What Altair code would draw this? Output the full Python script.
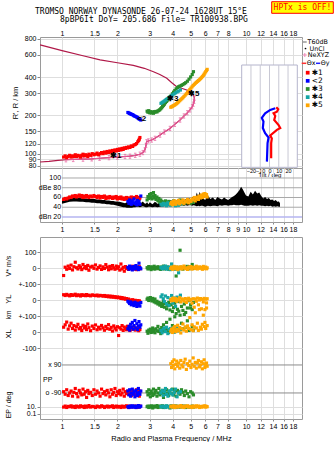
import math
import altair as alt
import pandas as pd

SANS = "Liberation Sans"
SANS_WIDE = "DejaVu Sans"
MONO = "DejaVu Sans Mono"

# ---------------- layout (pixels) ----------------
W = 262
H_TOP, H_DB, H_GAP, H_LOW = 131, 54, 15, 182

# ---------------- axes ----------------
F_MIN, F_MAX = 0.759, 20.15
F_TICKS = [1, 1.5, 2, 3, 4, 5, 6, 7, 8, 10, 12, 14, 16, 18]
F_TICKS_DB = [1, 1.5, 2, 3, 4, 5, 6, 7, 8, 9, 10, 12, 14, 16, 18]
H_MIN, H_MAX = 77.1, 829
H_TICKS = [80, 90, 100, 120, 150, 200, 300, 400, 600, 800]
DB_MIN, DB_MAX = 9.7, 120.5
DB_TICKS = [20, 40, 60, 80, 100]
DB_LABELS = ["dBn 20", "40", "60", "dBe 80", "100"]
TILT_MIN, TILT_MAX = -30, 30
TILT_TICKS = [-20, -10, 0, 10, 20]

# lower panel: stacked rows on one composite scale
V_ROW, YL_ROW, XL_ROW = 400, 200, 0
PPX_ROW, PPO_ROW, EP_ROW = -206, -381, -467
U_MIN, U_MAX = -543.75, 593.75
ROW_TICKS = [500, 400, 300, 200, 100, 0, -100, -467, -512]
ROW_LABELS = ["100", "0", "+-100", "0", "+-100", "0", "-100", "10.", "0.1"]

TRACES = ["✱1", "<2", "✱3", "✱4", "✱5"]
TRACE_COLORS = ["#ff0000", "#0000ff", "#2a8c2a", "#14a5a5", "#ffa500"]
CRIMSON = "#b01848"
PINK = "#e8589a"

# ---------------- electron density profile ----------------
LOW_F = [0.76, 0.85, 0.95]
LOW_H = [86, 87, 88.5]
BOT_F = [1.05, 1.15, 1.30, 1.45, 1.60, 1.80, 2.00, 2.20, 2.34, 2.50, 2.65, 2.75, 2.82, 2.86, 2.88,
         2.95, 3.07, 3.20, 3.41, 3.60, 3.86, 4.10, 4.38, 4.60, 4.80, 4.96, 5.10, 5.17, 5.22, 5.24]
BOT_H = [89.5, 90, 90.5, 91, 92, 93, 94, 95, 95.5, 97, 99, 102, 107, 116, 124,
         126, 128, 132, 140, 148, 158, 170, 184, 198, 210, 221, 234, 245, 258, 273]
TOP_F = [5.20, 5.06, 4.90, 4.76, 4.50, 4.20, 3.95, 3.71, 3.40, 3.14, 2.80, 2.44, 2.00, 1.61, 1.30, 1.00, 0.76]
TOP_H = [285, 299, 308, 317, 326, 337, 362, 392, 420, 442, 470, 495, 520, 547, 590, 647, 718]

# ---------------- tilt profile ----------------
TILT_X_H = [92, 121, 132, 139, 154, 159, 168, 184, 198, 208, 214, 224, 232]
TILT_X = [1.8, 1.8, 2.5, 0.8, 8.0, 11.6, 9.8, 5.1, 6.2, 4.4, 8.0, 9.4, 7.3]
TILT_Y_H = [86.5, 121, 134, 145, 159, 179, 191, 208, 221, 228]
TILT_Y = [-2.8, -2.1, -1.0, -4.7, -7.2, -6.5, -8.3, -4.7, 0.8, 6.2]

# ---------------- echo traces ----------------
F_RED = [1.02, 1.04, 1.06, 1.08, 1.10, 1.12, 1.14, 1.16, 1.18, 1.20, 1.22, 1.24, 1.26, 1.28, 1.30, 1.32, 1.34, 1.36, 1.38, 1.40,
         1.43, 1.46, 1.49, 1.52, 1.55, 1.58, 1.61, 1.64, 1.67, 1.70, 1.73, 1.76, 1.79, 1.82, 1.85, 1.88, 1.91, 1.94, 1.97, 2.00,
         2.03, 2.06, 2.09, 2.12, 2.15, 2.18, 2.21, 2.24, 2.27, 2.30, 2.34, 2.38, 2.42, 2.46, 2.50, 2.54, 2.58, 2.61, 2.63, 2.65]
H_RED = [94, 96, 93, 95, 97, 94, 96, 95, 98, 95, 97, 96, 94, 97, 99, 96, 98, 97, 95, 99,
         97, 100, 98, 99, 101, 98, 100, 102, 100, 103, 101, 104, 102, 105, 103, 106, 104, 107, 105, 108,
         106, 109, 107, 110, 108, 111, 110, 112, 111, 113, 112, 115, 114, 117, 118, 120, 124, 127, 130, 134]
AMP_RED = [56, 58, 57, 59, 61, 60, 63, 62, 64, 61, 63, 65, 62, 64, 60, 63, 61, 64, 62, 60,
           63, 61, 64, 62, 60, 63, 59, 62, 60, 63, 58, 61, 59, 62, 60, 58, 61, 59, 62, 57,
           60, 58, 61, 57, 59, 56, 58, 60, 57, 59, 58, 61, 57, 60, 59, 62, 58, 60, 57, 59]
VS_RED = [-47, 5, -8, 12, -3, 18, -12, 8, 36, 2, -6, 14, 4, -10, 22, 0, 9, -4, 16, -14,
          6, 11, -2, 19, -7, 3, 13, -9, 7, -3, 21, 5, -11, 10, -5, 15, 1, -8, 12, -2,
          8, -13, 25, -6, 4, -20, 9, -4, 2, -9, 6, -3, 11, -7, 3, -10, 5, -2, 8, -5]
YL_RED = [33, 28, 35, 30, 26, 34, 29, 31, 36, 27, 32, 30, 25, 33, 29, 31, 27, 34, 28, 30,
          26, 32, 29, 27, 31, 25, 29, 27, 24, 28, 22, 26, 20, 25, 18, 23, 17, 21, 15, 19,
          14, 17, 10, 15, 8, 12, 5, 9, 3, 6, 0, -3, 2, -6, -2, -8, -4, -10, -5, -12]
XL_RED = [30, 45, 62, 18, 38, 55, 22, 40, 12, 33, 48, 20, 28, 9, 42, 25, 35, 15, 50, 27,
          8, 37, 22, 44, 14, 30, 19, 41, 26, 11, 35, 21, 46, 17, 29, 6, 38, 24, 13, 33,
          -22, 27, 18, 40, 10, 31, 22, 14, 36, 20, 9, 28, 17, 32, 12, 25, 19, 8, 30, 15]
PP_RED = [-88, -92, -85, -94, -90, -87, -95, -89, -83, -91, -96, -86, -90, -93, -84, -92, -88, -97, -86, -91,
          -89, -94, -85, -92, -87, -90, -95, -84, -91, -88, -93, -86, -90, -96, -85, -92, -89, -83, -94, -88,
          -91, -86, -93, -90, -84, -95, -88, -91, -87, -92, -89, -94, -86, -90, -93, -85, -91, -88, -95, -87]
EP_RED = [9, 12, 8, 11, 10, 13, 9, 11, 8, 12, 10, 9, 13, 10, 11, 8, 12, 9, 10, 14,
          9, 11, 10, 8, 12, 10, 9, 13, 11, 8, 10, 12, 9, 11, 10, 13, 8, 10, 12, 9,
          11, 10, 8, 12, 10, 9, 11, 13, 10, 8, 12, 9, 11, 10, 12, 8, 10, 11, 9, 12]

F_BLUE = [2.28, 2.31, 2.33, 2.36, 2.38, 2.41, 2.44, 2.46, 2.49, 2.52, 2.55, 2.57, 2.60, 2.62, 2.65, 2.68]
H_BLUE = [211, 209, 207, 206, 204, 203, 201, 199, 197, 196, 194, 192, 190, 188, 186, 184]
AMP_BLUE = [52, 48, 55, 50, 46, 53, 49, 57, 47, 51, 45, 54, 48, 52, 46, 63]
VS_BLUE = [4, -8, 12, -3, 7, -12, 2, 9, -6, 15, -2, 6, -10, 30, 3, -5]
YL_BLUE = [-8, -15, -22, -12, -30, -18, -25, -35, -14, -28, -40, -20, -33, -24, -38, -16]
XL_BLUE = [20, 35, 12, 48, 28, 60, 18, 40, 72, 25, 52, 15, 38, 65, 30, 45]
PP_BLUE = [-87, -93, -85, -95, -90, -84, -92, -88, -96, -86, -91, -94, -83, -89, -92, -87]
EP_BLUE = [10, 8, 12, 9, 11, 13, 9, 10, 12, 8, 11, 10, 14, 9, 10, 12]

F_GREEN = [2.90, 2.93, 2.96, 2.99, 3.02, 3.05, 3.08, 3.11, 3.14, 3.17, 3.20, 3.24, 3.28, 3.32, 3.36, 3.40, 3.44, 3.48, 3.52, 3.56,
           3.60, 3.65, 3.70, 3.75, 3.80, 3.86, 3.92, 3.98, 4.04, 4.10, 4.17, 4.24, 4.31, 4.38, 4.46, 4.54, 4.62, 4.70, 4.80, 4.90,
           5.00, 5.10, 5.18]
H_GREEN = [216, 212, 218, 210, 214, 209, 213, 211, 208, 214, 212, 215, 213, 217, 219, 222, 226, 230, 235, 240,
           245, 252, 258, 264, 270, 279, 287, 296, 305, 314, 324, 332, 337, 341, 345, 350, 356, 362, 372, 386,
           402, 420, 442]
AMP_GREEN = [55, 62, 58, 66, 60, 68, 57, 63, 70, 59, 64, 56, 61, 53, 58, 50, 55, 52, 48, 51,
             47, 53, 49, 46, 52, 48, 50, 47, 53, 49, 46, 51, 48, 55, 50, 47, 52, 49, 54, 51,
             48, 53, 50]
VS_GREEN = [2, -6, 9, -3, 5, -10, 7, 0, -4, 11, -7, 3, -2, 8, -5, 4, -9, 6, -1, 12,
            -6, 3, -3, 7, -8, 2, 5, -4, 9, -2, -50, 4, -6, 111, 3, -7, 6, -2, 10, -5,
            8, 22, -3]
YL_GREEN = [5, 12, -3, 8, 15, 2, -6, 10, 0, -12, 6, -18, -8, -25, -15, -32, -20, -40, -28, -10,
            -45, -22, -55, -35, -15, -62, -30, -72, -48, -20, -85, -58, -10, -95, -40, -65, -25, -78, -50, -5,
            -30, -60, -15]
XL_GREEN = [5, -8, 12, 2, 18, -3, 9, 25, 0, 14, -5, 20, 7, 35, 3, 15, -10, 28, 10, 45,
            6, 22, 60, 12, -2, 80, 18, 40, 5, 95, 25, 8, 130, 15, 55, 20, 110, 30, 70, 10,
            150, 35, 12]
PP_GREEN = [-88, -93, -85, -91, -96, -87, -90, -94, -84, -92, -89, -86, -95, -90, -83, -93, -88, -91, -86, -97,
            -89, -92, -85, -90, -94, -87, -91, -84, -93, -88, -95, -86, -90, -92, -85, -89, -94, -87, -91, -96,
            -88, -90, -93]
EP_GREEN = [10, 12, 8, 11, 9, 13, 10, 7, 12, 9, 11, 10, 14, 8, 10, 12, 9, 11, 13, 8,
            10, 9, 12, 10, 11, 7, 13, 9, 10, 12, 8, 11, 10, 9, 13, 10, 12, 8, 11, 9,
            10, 12, 9]

F_TEAL = [3.45, 3.50, 3.55, 3.60, 3.65, 3.70, 3.76, 3.82, 3.88, 3.94, 4.00, 4.07, 4.14, 4.22, 4.30, 4.40]
H_TEAL = [249, 253, 256, 260, 264, 268, 272, 277, 281, 286, 291, 296, 301, 306, 311, 317]
AMP_TEAL = [46, 44, 48, 45, 47, 43, 49, 46, 44, 48, 45, 47, 43, 46, 44, 47]
VS_TEAL = [3, -5, 8, -2, 12, -7, 0, 5, -10, 25, -3, 6, -8, 2, -30, 4]
YL_TEAL = [20, 32, 8, -10, 25, -25, 15, -35, 5, 28, -18, 12, -40, 18, -5, 30]
XL_TEAL = [10, -5, 18, 25, 2, 30, -10, 15, 22, 5, 28, -2, 12, 20, 8, 16]
PP_TEAL = [-90, -86, -94, -88, -83, -92, -95, -87, -91, -85, -93, -89, -84, -96, -90, -88]
EP_TEAL = [11, 9, 12, 10, 8, 13, 10, 9, 11, 12, 8, 10, 13, 9, 11, 10]

F_ORANGE = [3.90, 3.94, 3.98, 4.02, 4.06, 4.10, 4.15, 4.20, 4.25, 4.30, 4.36, 4.42, 4.48, 4.54, 4.60, 4.67, 4.74, 4.81, 4.88, 4.95,
            5.02, 5.09, 5.16, 5.23, 5.30, 5.37, 5.44, 5.51, 5.58, 5.65, 5.72, 5.79, 5.86, 5.92, 5.98, 6.04, 6.10, 6.15]
H_ORANGE = [232, 234, 236, 238, 240, 242, 245, 248, 252, 256, 261, 266, 271, 276, 282, 289, 296, 304, 312, 320,
            328, 336, 344, 351, 358, 364, 370, 376, 382, 389, 396, 404, 413, 422, 432, 442, 452, 461]
AMP_ORANGE = [47, 50, 45, 52, 48, 53, 46, 51, 49, 54, 47, 52, 50, 55, 48, 53, 51, 56, 49, 54,
              52, 57, 55, 60, 53, 58, 61, 56, 63, 59, 65, 60, 67, 62, 68, 64, 66, 61]
VS_ORANGE = [-3, 5, -8, 2, 10, -5, 0, 7, -10, 4, -2, 8, -6, 3, 12, -4, 1, -9, 6, -1,
             9, -7, 2, 5, -3, 11, -6, 0, 7, -2, 4, -8, 10, -4, 2, 6, -5, 1]
YL_ORANGE = [2, -5, 8, 12, -3, 6, 10, -8, 4, 0, 14, -12, 7, 2, -6, 9, -15, 5, 11, -2,
             3, -20, 8, -45, 6, -8, 12, -30, 0, 9, -55, 4, -12, 10, -60, 5, -18, 8]
XL_ORANGE = [5, 18, -3, 25, 10, 35, 2, 15, 42, 8, 28, -6, 20, 50, 12, 30, 5, 38, 22, 90,
             15, 45, 8, 32, 120, 25, 55, 10, 140, 30, 18, 48, 105, 35, 60, 22, 150, 40]
PP_ORANGE = [92, 86, 95, 89, 98, 84, 91, 96, 88, 93, 85, 97, 90, 87, 94, 99, 83, 92, 89, 96,
             86, 91, 101, 88, 94, 85, 93, 97, 87, 90, 95, 84, 92, 98, 86, 90, 93, 88]
EP_ORANGE = [10, 12, 9, 11, 13, 8, 10, 12, 9, 11, 10, 14, 9, 11, 8, 12, 10, 13, 9, 11,
             10, 8, 12, 11, 9, 13, 10, 12, 8, 11, 9, 10, 12, 10, 13, 9, 11, 10]

# trace labels on the ionogram
TAG_TEXT = ["✱1", "<2", "✱3", "✱5"]
TAG_F = [1.82, 2.56, 3.72, 4.84]
TAG_H = [96, 187, 267, 295]

# ---------------- noise / amplitude band ----------------
NOISE_F = [1.00, 1.05, 1.10, 1.15, 1.20, 1.25, 1.30, 1.35, 1.40, 1.45,
           1.50, 1.55, 1.60, 1.65, 1.70, 1.75, 1.80, 1.85, 1.90, 1.95,
           2.00, 2.05, 2.10, 2.15, 2.20, 2.25, 2.30, 2.35, 2.40, 2.45,
           2.50, 2.55, 2.60, 2.65, 2.70, 2.75, 2.80, 2.85, 2.90, 2.95,
           3.0, 3.1, 3.2, 3.3, 3.4, 3.5, 3.6, 3.7, 3.8, 3.9,
           4.0, 4.1, 4.2, 4.3, 4.4, 4.5, 4.6, 4.7, 4.8, 4.9,
           5.0, 5.1, 5.2, 5.3, 5.4, 5.5, 5.6, 5.7, 5.8, 5.9, 6.0,
           6.2, 6.4, 6.6, 6.8, 7.0, 7.2, 7.4, 7.6, 7.8, 8.0,
           8.2, 8.4, 8.6, 8.8, 9.0, 9.2, 9.4, 9.6, 9.8, 10.0,
           10.3, 10.6, 10.9, 11.2, 11.5, 11.8, 12.1, 12.4, 12.7, 13.0,
           13.3, 13.6, 13.9, 14.2, 14.5, 14.8, 15.1, 15.3]
NOISE_LO = [47, 49, 51, 52, 52, 51, 51, 50, 50, 49,
            49, 48, 48, 47, 47, 46, 46, 45, 45, 44,
            43, 42, 41, 40, 40, 39, 39, 39, 39, 40,
            40, 41, 41, 40, 41, 42, 41, 40, 40, 41,
            41, 40, 41, 40, 41, 41, 42, 41, 42, 42,
            43, 42, 43, 42, 43, 44, 43, 44, 43, 44,
            44, 43, 44, 43, 42, 43, 42, 43, 43, 42, 41,
            43, 42, 43, 43, 42, 44, 43, 44, 44, 43,
            44, 44, 45, 44, 44, 44, 45, 44, 43, 43,
            43, 44, 43, 44, 43, 44, 43, 43, 42, 43,
            42, 43, 41, 42, 41, 42, 41, 41]
NOISE_HI = [54, 56, 58, 59, 60, 59, 58, 58, 57, 57,
            57, 56, 56, 55, 55, 54, 54, 53, 53, 52,
            52, 51, 50, 49, 48, 50, 47, 49, 46, 50,
            48, 51, 47, 50, 49, 52, 48, 47, 50, 46,
            50, 46, 51, 47, 49, 52, 48, 53, 50, 55,
            52, 56, 50, 57, 53, 58, 54, 57, 55, 59,
            56, 60, 63, 58, 70, 61, 72, 62, 66, 57, 55,
            64, 57, 60, 55, 61, 58, 56, 60, 57, 55,
            58, 61, 63, 66, 70, 75, 82, 77, 70, 64,
            62, 72, 66, 74, 68, 70, 63, 58, 61, 57,
            59, 55, 56, 53, 55, 51, 52, 48]

# ---------------- data frames ----------------
def trace_frame(name, f, h, amp, vs, yl, xl, pp, ep):
    return pd.DataFrame({"trace": name, "f": f, "h": h, "amp": amp, "vs": vs,
                         "yl": yl, "xl": xl, "pp": pp, "ep": ep})


echoes = pd.concat([
    trace_frame(TRACES[0], F_RED, H_RED, AMP_RED, VS_RED, YL_RED, XL_RED, PP_RED, EP_RED),
    trace_frame(TRACES[1], F_BLUE, H_BLUE, AMP_BLUE, VS_BLUE, YL_BLUE, XL_BLUE, PP_BLUE, EP_BLUE),
    trace_frame(TRACES[2], F_GREEN, H_GREEN, AMP_GREEN, VS_GREEN, YL_GREEN, XL_GREEN, PP_GREEN, EP_GREEN),
    trace_frame(TRACES[3], F_TEAL, H_TEAL, AMP_TEAL, VS_TEAL, YL_TEAL, XL_TEAL, PP_TEAL, EP_TEAL),
    trace_frame(TRACES[4], F_ORANGE, H_ORANGE, AMP_ORANGE, VS_ORANGE, YL_ORANGE, XL_ORANGE, PP_ORANGE, EP_ORANGE),
], ignore_index=True)


def pp_row(p):
    return PPX_ROW + (p - 90) * 4 if p > 0 else PPO_ROW + (p + 90) * 4


def ep_row(e):
    return EP_ROW + 50 * math.log10(e / 10)


rows = []
for r in echoes.itertuples():
    rows.append((r.trace, r.f, V_ROW + r.vs))
    rows.append((r.trace, r.f, YL_ROW + r.yl))
    rows.append((r.trace, r.f, XL_ROW + r.xl))
    rows.append((r.trace, r.f, pp_row(r.pp)))
    rows.append((r.trace, r.f, ep_row(r.ep)))
rows_df = pd.DataFrame(rows, columns=["trace", "f", "u"])

crimson_f = LOW_F + BOT_F + TOP_F
crimson_h = LOW_H + BOT_H + TOP_H
crimson_df = pd.DataFrame({"f": crimson_f, "h": crimson_h, "i": range(len(crimson_f))})
pink_df = pd.DataFrame({"f": BOT_F, "h": BOT_H, "i": range(len(BOT_F))})
noise_df = pd.DataFrame({"f": NOISE_F, "lo": NOISE_LO, "hi": NOISE_HI})
tags_df = pd.DataFrame({"t": TAG_TEXT, "f": TAG_F, "h": TAG_H})
tilt_df = pd.concat([
    pd.DataFrame({"side": "x", "t": TILT_X, "h": TILT_X_H, "i": range(len(TILT_X))}),
    pd.DataFrame({"side": "y", "t": TILT_Y, "h": TILT_Y_H, "i": range(len(TILT_Y))}),
], ignore_index=True)
one = pd.DataFrame({"k": [0]})

# ---------------- scales ----------------
fx = alt.Scale(type="log", domain=[F_MIN, F_MAX], nice=False)
hy = alt.Scale(type="log", domain=[H_MIN, H_MAX], nice=False)
dby = alt.Scale(domain=[DB_MIN, DB_MAX], nice=False, zero=False)
uy = alt.Scale(domain=[U_MIN, U_MAX], nice=False, zero=False)
tx = alt.Scale(domain=[TILT_MIN, TILT_MAX], range=[201.7, 257.3], nice=False, zero=False)
trace_color = alt.Color("trace:N", scale=alt.Scale(domain=TRACES, range=TRACE_COLORS), legend=None)


def label(text, x, y, size=8.0, color="black", align="left", weight="normal", font=SANS, angle=0):
    return alt.Chart(one).mark_text(
        text=text, align=align, baseline="middle", fontSize=size, color=color,
        fontWeight=weight, font=font, angle=angle
    ).encode(x=alt.value(x), y=alt.value(y))


def dash(x1, x2, y, color, width=1.5):
    return alt.Chart(one).mark_rule(color=color, strokeWidth=width).encode(
        x=alt.value(x1), x2=alt.value(x2), y=alt.value(y))


# ---------------- virtual height panel ----------------
top_axis = alt.Axis(orient="top", values=F_TICKS, format="~g", grid=True, tickSize=0,
                    labelPadding=1, domain=False, title=None)
h_axis = alt.Axis(values=H_TICKS, grid=True, tickSize=3, labelPadding=1, domain=False,
                  labelOverlap=False, title="R', R / km", titleFontSize=7.5, titlePadding=5)


def fX(field="f:Q"):
    return alt.X(field, scale=fx, axis=top_axis)


def hY(field="h:Q"):
    return alt.Y(field, scale=hy, axis=h_axis)


profile_line = alt.Chart(crimson_df).mark_line(color=CRIMSON, strokeWidth=1.2).encode(
    x=fX(), y=hY(), order="i:Q")
pink_line = alt.Chart(pink_df).mark_line(color=PINK, strokeWidth=1).encode(x=fX(), y=hY(), order="i:Q")
pink_marks = alt.Chart(pink_df).mark_point(
    shape="M-0.6,-1H0.6M0,-1V1M-0.6,1H0.6", color=PINK, size=18, strokeWidth=1, filled=False
).encode(x=fX(), y=hY())
echo_h = alt.Chart(echoes).mark_square(size=10, opacity=1).encode(x=fX(), y=hY(), color=trace_color)
tags = alt.Chart(tags_df).mark_text(align="left", baseline="middle", fontSize=8, fontWeight="bold",
                                    font=SANS, color="black").encode(x=fX(), y=hY(), text="t:N")

LEG = 6.4
legend_layers = [
    dash(262.7, 266.7, 5.0, "#9a9a9a"),
    label("T60dB", 267.5, 5.0, size=LEG, font=SANS_WIDE),
    alt.Chart(one).mark_circle(size=3, color="black", opacity=1).encode(x=alt.value(265.5), y=alt.value(11.5)),
    label("UnCl", 269.5, 11.5, size=LEG, font=SANS_WIDE),
    alt.Chart(one).mark_point(shape="M-1,0H1M0,-1V1", size=16, color=PINK, strokeWidth=1).encode(
        x=alt.value(264.8), y=alt.value(18)),
    label("NeXYZ", 267.7, 18, size=LEG, font=SANS_WIDE),
    dash(261.7, 266.2, 26.3, "#ff3030"),
    label("Θx", 266.7, 26.3, size=LEG, font=SANS_WIDE),
    dash(276.0, 280.2, 26.3, "#2020ff"),
    label("Θy", 280.7, 26.3, size=LEG, font=SANS_WIDE),
]
for i, (name, col) in enumerate(zip(TRACES, TRACE_COLORS)):
    yy = 35.7 + 8.15 * i
    legend_layers.append(alt.Chart(one).mark_square(size=14, color=col, opacity=1).encode(
        x=alt.value(267.7), y=alt.value(yy)))
    legend_layers.append(label(name, 271.7, yy, size=7.5, font=SANS_WIDE))

header_layers = [
    label("TROMSO NORWAY   DYNASONDE 26-07-24 1628UT 15°E", -5, -25.5, size=8, font=MONO),
    label("8pBP6It DoY= 205.686 File= TR100938.BPG", 20, -17.5, size=8, font=MONO),
    alt.Chart(one).mark_rect(fill="#ffff00", stroke="#ff0000", strokeWidth=1).encode(
        x=alt.value(231.7), x2=alt.value(293.3), y=alt.value(-35.3), y2=alt.value(-23.7)),
    label("HPTx is OFF!", 262.5, -29.5, size=8, color="#ff0000", align="center", font=MONO),
]

main_layer = alt.layer(profile_line, pink_line, pink_marks, echo_h, tags,
                       *legend_layers, *header_layers)

# inset: tilt angles against height
tilt_axis = alt.Axis(orient="bottom", values=TILT_TICKS, grid=False, tickSize=0, labelPadding=0,
                     domain=False, labelFontSize=5.5, labelOverlap=False, title="Tilt / deg",
                     titleFontSize=6, titlePadding=-2, titleFontWeight="normal")
inset_frame = alt.Chart(one).mark_rect(fill="white", stroke="#b4b4cc", strokeWidth=1).encode(
    x=alt.X(datum=TILT_MIN, scale=tx, axis=tilt_axis), x2=alt.X2(datum=TILT_MAX),
    y=alt.value(28), y2=alt.value(130.3))
inset_grid = alt.Chart(pd.DataFrame({"t": TILT_TICKS})).mark_rule(color="#c8c8d4", strokeWidth=1).encode(
    x=alt.X("t:Q", scale=tx, axis=tilt_axis), y=alt.value(28), y2=alt.value(130.3))
tilt_lines = alt.Chart(tilt_df).mark_line(strokeWidth=2.2).encode(
    x=alt.X("t:Q", scale=tx, axis=tilt_axis), y=hY(),
    color=alt.Color("side:N", scale=alt.Scale(domain=["x", "y"], range=["#ff0000", "#0000ff"]), legend=None),
    order="i:Q")
inset_layer = alt.layer(inset_frame, inset_grid, tilt_lines)

height_panel = alt.layer(main_layer, inset_layer).resolve_scale(
    x="independent", color="independent").properties(width=W, height=H_TOP)

# ---------------- amplitude panel ----------------
db_x_axis = alt.Axis(orient="bottom", values=F_TICKS_DB, format="~g", grid=True, tickSize=2,
                     labelPadding=1, domain=False, title=None)


def dX(field="f:Q"):
    return alt.X(field, scale=fx, axis=db_x_axis)


noise = alt.Chart(noise_df).mark_area(color="black", opacity=1).encode(
    x=dX(), y=alt.Y("lo:Q", scale=dby, axis=None), y2="hi:Q")
db_grid = alt.Chart(pd.DataFrame({"v": DB_TICKS[1:]})).mark_rule(color="#a8a8a8", strokeWidth=1).encode(
    x=alt.X(datum=1, scale=fx, axis=db_x_axis), x2=alt.value(W), y=alt.Y("v:Q", scale=dby, axis=None))
db_base = alt.Chart(pd.DataFrame({"v": DB_TICKS[:1]})).mark_rule(color="#b4b4f0", strokeWidth=1.5).encode(
    x=alt.X(datum=1, scale=fx, axis=db_x_axis), x2=alt.value(W), y=alt.Y("v:Q", scale=dby, axis=None))
db_labels = alt.Chart(pd.DataFrame({"v": DB_TICKS, "t": DB_LABELS})).mark_text(
    align="right", baseline="middle", fontSize=7, font=SANS, color="black", dx=-1).encode(
    x=alt.X(datum=1, scale=fx, axis=db_x_axis), y=alt.Y("v:Q", scale=dby, axis=None), text="t:N")
echo_db = alt.Chart(echoes).mark_square(size=10, opacity=1).encode(
    x=dX(), y=alt.Y("amp:Q", scale=dby, axis=None), color=trace_color)
db_panel = alt.layer(db_grid, db_base, noise, echo_db, db_labels).properties(width=W, height=H_DB)

spacer = alt.Chart(one).mark_point(opacity=0).encode(x=alt.value(0), y=alt.value(0)).properties(
    width=W, height=H_GAP, view=alt.ViewBackground(strokeOpacity=0))

# ---------------- drift / polarization panel ----------------
row_expr = " : ".join(f"datum.value == {v} ? '{t}'" for v, t in zip(ROW_TICKS, ROW_LABELS)) + " : ''"
u_axis = alt.Axis(values=ROW_TICKS, labelExpr=row_expr, grid=True, tickSize=3, labelPadding=1,
                  domain=False, title=None, labelOverlap=False)
low_x_axis = alt.Axis(orient="bottom", values=F_TICKS, format="~g", grid=True, tickSize=2,
                      labelPadding=1, domain=False, title="Radio and Plasma Frequency / MHz",
                      titleFontSize=7.5, titlePadding=5, titleFontWeight="normal")


def lX(field="f:Q"):
    return alt.X(field, scale=fx, axis=low_x_axis)


def uY(field="u:Q"):
    return alt.Y(field, scale=uy, axis=u_axis)


echo_rows = alt.Chart(rows_df).mark_square(size=10, opacity=1).encode(x=lX(), y=uY(), color=trace_color)
pp_lines = alt.Chart(pd.DataFrame({"u": [PPX_ROW, PPO_ROW]})).mark_rule(color="#8c8c8c", strokeWidth=1).encode(
    x=alt.X(datum=1, scale=fx, axis=low_x_axis), x2=alt.value(W), y=uY())

SIDE_TEXT = ["V* m/s", "YL", "km", "XL", "EP / deg"]
SIDE_U = [412, 206, 106, -12, -456]
SIDE_SIZE = [7, 7.5, 6.5, 7.5, 7]
side_layers = [
    alt.Chart(one).mark_text(text=t, angle=270, align="center", baseline="middle", fontSize=s,
                             font=SANS, color="black").encode(
        x=alt.value(-31.5), y=alt.Y(datum=u, scale=uy, axis=u_axis))
    for t, u, s in zip(SIDE_TEXT, SIDE_U, SIDE_SIZE)
]
inner_labels = [
    alt.Chart(one).mark_text(text="x  90", align="right", baseline="middle", fontSize=7, font=SANS,
                             color="black").encode(x=alt.value(21.5), y=alt.Y(datum=PPX_ROW, scale=uy, axis=u_axis)),
    alt.Chart(one).mark_text(text="o -90", align="right", baseline="middle", fontSize=7, font=SANS,
                             color="black").encode(x=alt.value(21.5), y=alt.Y(datum=PPO_ROW, scale=uy, axis=u_axis)),
    alt.Chart(one).mark_text(text="PP", align="left", baseline="middle", fontSize=7, font=SANS,
                             color="black").encode(x=alt.value(3), y=alt.Y(datum=-300, scale=uy, axis=u_axis)),
]
low_panel = alt.layer(pp_lines, echo_rows, *side_layers, *inner_labels).properties(width=W, height=H_LOW)

chart = alt.vconcat(height_panel, db_panel, spacer, low_panel, spacing=0, bounds="flush").properties(
    padding={"left": 4, "top": 0, "right": 0, "bottom": 0}, background="white"
).configure_view(stroke="#9a9a9a", strokeWidth=1).configure_axis(
    labelFont=SANS, labelFontSize=7, labelColor="black", titleFont=SANS, titleColor="black",
    titleFontWeight="normal", gridColor="#dedede", gridWidth=1, tickColor="#888888", domainColor="#888888"
)

chart.save("out.html", embed_options={"renderer": "svg", "actions": False})
